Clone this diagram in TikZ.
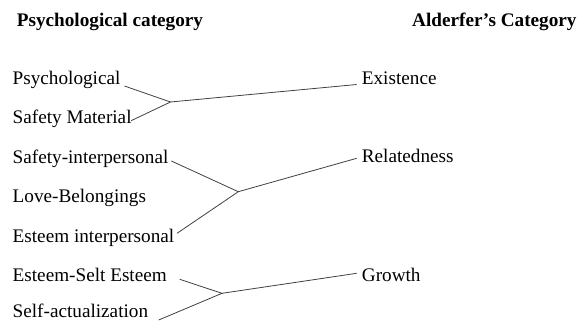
\documentclass[tikz,border=0pt]{standalone}
\usepackage{fontspec}
\setmainfont{Liberation Serif}
\begin{document}
\begin{tikzpicture}[x=1pt,y=-1pt,
  lbl/.style={anchor=base west,inner sep=0pt,font=\fontsize{19.2}{22}\selectfont},
  head/.style={lbl,font=\fontsize{19.2}{22}\selectfont\bfseries},
  link/.style={draw=black!75,line width=0.8pt}]
\useasboundingbox (0,0) rectangle (579,322);

% column headings
\node[head] (hl) at (16.7,26) {Psychological category};
\node[head] (hr) at (412,26) {Alderfer’s Category};

% needs (left column)
\node[lbl] (psy) at (12.5,84)    {Psychological};
\node[lbl] (sm)  at (12.5,123.5) {Safety Material};
\node[lbl] (si)  at (12.5,163)   {Safety-interpersonal};
\node[lbl] (lb)  at (12.5,202.5) {Love-Belongings};
\node[lbl] (ei)  at (12.5,242)   {Esteem interpersonal};
\node[lbl] (es)  at (12.5,281.5) {Esteem-Selt Esteem};
\node[lbl] (sa)  at (12.5,317.5) {Self-actualization};

% ERG categories (right column)
\node[lbl] (ex) at (361.7,84)    {Existence};
\node[lbl] (re) at (361.7,162.7) {Relatedness};
\node[lbl] (gr) at (361.7,281.7) {Growth};

% branch points
\coordinate (j1) at (170.5,102);
\coordinate (j2) at (238.3,191.7);
\coordinate (j3) at (222,293.3);

% Existence
\draw[link] ([shift={(3.8,2)}]psy.base east) -- (j1) -- ([shift={(-0.7,-2.8)}]sm.base east);
\draw[link] (j1) -- ([shift={(-5,0.5)}]ex.base west);

% Relatedness
\draw[link] ([shift={(2.8,-2)}]si.base east) -- (j2) -- ([shift={(2.6,-8.7)}]ei.base east);
\draw[link] (j2) -- ([shift={(-5,-4.4)}]re.base west);

% Growth
\draw[link] ([shift={(12.7,-2.2)}]es.base east) -- (j3) -- ([shift={(10.4,2.5)}]sa.base east);
\draw[link] (j3) -- ([shift={(-5,-8.4)}]gr.base west);
\end{tikzpicture}
\end{document}
